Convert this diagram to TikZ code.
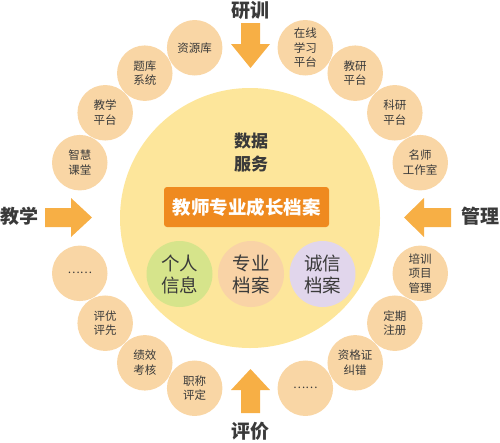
\documentclass[tikz,border=0pt]{standalone}
\usepackage{fontspec}
\usetikzlibrary{calc}
\setmainfont{Noto Sans CJK SC}
\definecolor{bigc}{HTML}{FDE69B}
\definecolor{smallc}{HTML}{F9D6A5}
\definecolor{boxc}{HTML}{EF8A1F}
\definecolor{greenc}{HTML}{D6E48B}
\definecolor{peachc}{HTML}{F9D3A6}
\definecolor{lavc}{HTML}{E1D6EC}
\definecolor{arrc}{HTML}{F7AF45}
\definecolor{txt}{HTML}{3A3A3A}
\tikzset{
  small/.style={circle, fill=smallc, minimum size=55.5pt, inner sep=0pt, align=center, text=txt,
    font=\fontsize{11.5}{14.5}\selectfont},
  mid/.style={circle, minimum size=66pt, inner sep=0pt, align=center, text=txt,
    font=\fontsize{18.5}{22}\selectfont},
  lab/.style={text=txt, font=\fontsize{19}{22}\selectfont\bfseries, inner sep=0pt},
  arr/.style={fill=arrc},
}
\begin{document}
\begin{tikzpicture}[x=1pt,y=-1pt]
\useasboundingbox (0,0) rectangle (500,442);
\coordinate (C) at (250,218);
\node[circle, fill=bigc, minimum size=260pt, inner sep=0pt] (big) at (C) {};
\foreach \a/\t/\n in {108/资源库/s1, 126/题库\\系统/s2, 144/教学\\平台/s3, 162/智慧\\课堂/s4,
  198/……/s5, 216/评优\\评先/s6, 234/绩效\\考核/s7, 252/职称\\评定/s8,
  288/……/s9, 306/资格证\\纠错/s10, 324/定期\\注册/s11, 342/培训\\项目\\管理/s12,
  18/名师\\工作室/s13, 36/科研\\平台/s14, 54/教研\\平台/s15, 72/在线\\学习\\平台/s16}
  \node[small] (\n) at ($(C)+(-\a:179)$) {\t};
\node[text=txt, align=center, font=\fontsize{17}{23}\selectfont\bfseries] (ds) at (251,153) {数据\\服务};
\node[fill=boxc, rounded corners=3pt, minimum width=165pt, minimum height=40pt, inner sep=0pt,
  text=white, font=\fontsize{18.5}{22}\selectfont\bfseries] (box) at (246.5,207) {教师专业成长档案};
\node[mid, fill=greenc] (m1) at (179.5,274) {个人\\信息};
\node[mid, fill=peachc] (m2) at (251,274) {专业\\档案};
\node[mid, fill=lavc] (m3) at (322.5,274) {诚信\\档案};
\fill[arr] (241,23)--(260,23)--(260,44)--(270,44)--(250.5,68)--(231,44)--(241,44)--cycle;
\fill[arr] (241,413)--(260,413)--(260,390)--(270,390)--(250.5,369)--(231,390)--(241,390)--cycle;
\fill[arr] (45,208)--(45,227)--(71,227)--(71,237)--(92,217.5)--(71,198)--(71,208)--cycle;
\fill[arr] (451,208)--(451,227)--(424,227)--(424,237)--(404,217.5)--(424,198)--(424,208)--cycle;
\node[lab] (t) at (250,10) {研训};
\node[lab] (l) at (19,216) {教学};
\node[lab] (r) at (480,216) {管理};
\node[lab] (b) at (250,431) {评价};
\end{tikzpicture}
\end{document}
